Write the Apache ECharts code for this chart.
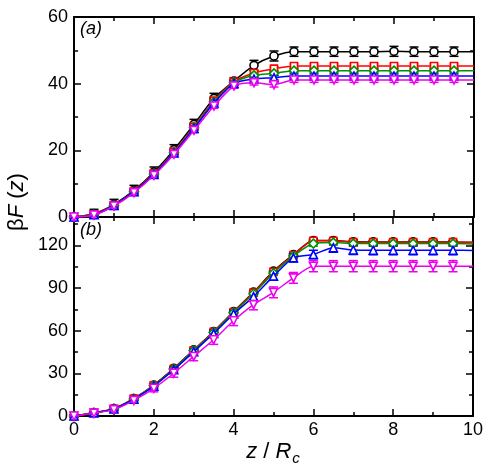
<!DOCTYPE html>
<html>
<head>
<meta charset="utf-8">
<script src="https://cdn.jsdelivr.net/npm/echarts@6/dist/echarts.min.js"></script>
<style>
  html, body { margin: 0; padding: 0; background: #fff; }
  #chart { width: 486px; height: 472px; }
</style>
</head>
<body>
<div id="chart"></div>
<script>
// z / Rc sample points (last one has no marker)
var zVals = [0, 0.5, 1, 1.5, 2, 2.5, 3, 3.5, 4, 4.5, 5, 5.5, 6, 6.5, 7, 7.5, 8, 8.5, 9, 9.5, 10];

// panel (a)
var aBlack   = [0, 1.0, 3.8, 8.0, 13.5, 20.2, 27.8, 35.6, 40.8, 45.5, 48.3, 49.6, 49.6, 49.6, 49.6, 49.6, 49.7, 49.6, 49.6, 49.6, 49.6];
var aRed     = [0, 0.8, 3.6, 7.8, 13.1, 19.6, 27.1, 34.9, 40.6, 43.2, 44.5, 45.3, 45.3, 45.3, 45.3, 45.3, 45.3, 45.3, 45.3, 45.3, 45.3];
var aGreen   = [0, 0.7, 3.5, 7.6, 12.9, 19.3, 26.8, 34.5, 40.3, 42.5, 43.1, 43.9, 43.9, 43.9, 43.9, 43.9, 43.9, 43.9, 43.9, 43.9, 43.9];
var aBlue    = [0, 0.7, 3.5, 7.6, 12.8, 19.2, 26.6, 34.2, 40.1, 41.4, 41.8, 42.3, 42.3, 42.3, 42.3, 42.3, 42.3, 42.3, 42.3, 42.3, 42.3];
var aMagenta = [0, 0.6, 3.3, 7.3, 12.5, 18.8, 26.0, 33.3, 39.3, 40.3, 39.7, 41.1, 41.1, 41.1, 41.1, 41.1, 41.1, 41.1, 41.1, 41.1, 41.1];

var aBlackErr   = [0.3, 1.3, 1.5, 1.5, 1.5, 1.5, 1.5, 1.5, 1.0, 1.5, 1.5, 1.4, 1.4, 1.4, 1.4, 1.4, 1.5, 1.4, 1.4, 1.4];
var aRedErr     = [0.2, 0.4, 0.5, 0.5, 0.5, 0.5, 0.6, 0.6, 0.6, 0.6, 0.6, 0.6, 0.6, 0.6, 0.6, 0.6, 0.6, 0.6, 0.6, 0.6];
var aGreenErr   = [0.2, 0.4, 0.5, 0.5, 0.5, 0.5, 0.6, 0.6, 0.6, 0.6, 0.6, 0.6, 0.6, 0.6, 0.6, 0.6, 0.6, 0.6, 0.6, 0.6];
var aBlueErr    = [0.2, 0.4, 0.5, 0.5, 0.5, 0.5, 0.6, 0.6, 0.6, 0.6, 0.6, 0.6, 0.6, 0.6, 0.6, 0.6, 0.6, 0.6, 0.6, 0.6];
var aMagentaErr = [0.2, 0.5, 0.6, 0.6, 0.7, 0.7, 0.7, 0.7, 0.7, 0.7, 0.7, 0.7, 0.7, 0.7, 0.7, 0.7, 0.7, 0.7, 0.7, 0.7];

// panel (b)
var bBlack   = [0, 2.3, 5.2, 12.3, 21.8, 33.5, 46.5, 59.5, 73.5, 87.2, 101.9, 113.5, 123.5, 123.5, 122.6, 122.5, 122.5, 122.5, 122.5, 122.3, 122.0];
var bRed     = [0, 2.3, 5.1, 12.2, 21.6, 33.2, 46.2, 59.2, 73.2, 86.8, 101.5, 113.2, 123.3, 123.3, 122.3, 122.3, 122.3, 122.3, 122.3, 122.3, 122.3];
var bGreen   = [0, 2.2, 5.0, 12.0, 21.4, 33.0, 46.0, 58.8, 72.7, 86.0, 100.5, 112.5, 121.3, 122.0, 121.3, 121.3, 121.3, 121.3, 121.3, 121.3, 121.0];
var bBlue    = [0, 2.2, 4.9, 11.8, 21.0, 32.5, 45.2, 58.0, 71.8, 84.0, 98.4, 111.3, 113.6, 118.4, 116.8, 116.6, 116.6, 116.6, 116.6, 116.6, 116.5];
var bMagenta = [0, 2.0, 4.5, 11.0, 19.5, 30.1, 41.9, 53.6, 67.0, 78.3, 87.0, 97.2, 105.4, 105.4, 105.4, 105.4, 105.4, 105.4, 105.4, 105.4, 105.4];

var bBlackErr   = [0.3, 0.8, 1.0, 1.0, 1.0, 1.0, 1.0, 1.0, 1.2, 1.2, 1.2, 1.2, 1.2, 1.2, 1.2, 1.2, 1.2, 1.2, 1.2, 1.2];
var bRedErr     = [0.3, 0.8, 1.0, 1.0, 1.0, 1.0, 1.0, 1.0, 1.2, 1.2, 1.2, 1.2, 1.2, 1.2, 1.2, 1.2, 1.2, 1.2, 1.2, 1.2];
var bGreenErr   = [0.3, 0.8, 1.0, 1.2, 1.2, 1.3, 1.4, 1.5, 1.5, 1.6, 1.6, 1.8, 1.8, 1.8, 1.8, 1.8, 1.8, 1.8, 1.8, 1.8];
var bBlueErr    = [0.3, 0.8, 1.0, 1.3, 1.5, 1.8, 2.0, 2.2, 2.5, 2.7, 2.8, 3.0, 3.0, 3.2, 3.2, 3.2, 3.2, 3.2, 3.2, 3.2];
var bMagentaErr = [0.3, 1.0, 1.5, 2.0, 2.5, 2.8, 3.0, 3.2, 3.4, 3.6, 3.8, 3.8, 3.9, 3.9, 3.9, 3.9, 3.9, 3.9, 3.9, 3.9];

var colors  = ['#000000', '#ff0000', '#009000', '#0000ff', '#ee00ee'];
var symbols = ['circle', 'rect', 'diamond', 'triangle', 'triangle'];
var symSize = [8, 7, 9, 8, 8];
var symRot  = [0, 0, 0, 0, 180];

var topSets = [aBlack, aRed, aGreen, aBlue, aMagenta];
var topErrs = [aBlackErr, aRedErr, aGreenErr, aBlueErr, aMagentaErr];
var botSets = [bBlack, bRed, bGreen, bBlue, bMagenta];
var botErrs = [bBlackErr, bRedErr, bGreenErr, bBlueErr, bMagentaErr];

var FONT = 'Liberation Sans, Arial, sans-serif';

function lineSeries(vals, k, xi, yi) {
    var data = vals.map(function (v, i) {
        var d = { value: [zVals[i], v] };
        if (zVals[i] === 10) d.symbolSize = 0;
        return d;
    });
    return {
        type: 'line',
        xAxisIndex: xi,
        yAxisIndex: yi,
        data: data,
        smooth: 0.25,
        symbol: symbols[k],
        symbolSize: symSize[k],
        symbolRotate: symRot[k],
        showAllSymbol: true,
        lineStyle: { color: colors[k], width: 1.5 },
        itemStyle: { color: '#fff', borderColor: colors[k], borderWidth: 1.6 },
        z: 3 + k,
        silent: true,
        animation: false
    };
}

function errSeries(vals, errs, k, xi, yi) {
    var data = errs.map(function (e, i) {
        return [zVals[i], vals[i] - e, vals[i] + e];
    });
    return {
        type: 'custom',
        xAxisIndex: xi,
        yAxisIndex: yi,
        data: data,
        z: 2 + k,
        silent: true,
        animation: false,
        renderItem: function (params, api) {
            var x = api.value(0);
            var p1 = api.coord([x, api.value(2)]);
            var p2 = api.coord([x, api.value(1)]);
            var w = 4.5;
            var st = { stroke: colors[k], lineWidth: 1.5 };
            return {
                type: 'group',
                children: [
                    { type: 'line', shape: { x1: p1[0], y1: p1[1], x2: p2[0], y2: p2[1] }, style: st },
                    { type: 'line', shape: { x1: p1[0] - w, y1: p1[1], x2: p1[0] + w, y2: p1[1] }, style: st },
                    { type: 'line', shape: { x1: p2[0] - w, y1: p2[1], x2: p2[0] + w, y2: p2[1] }, style: st }
                ]
            };
        }
    };
}

function frameAxis(extra) {
    var base = {
        type: 'value',
        axisLine: { show: true, onZero: false, lineStyle: { color: '#000', width: 2 } },
        axisTick: { show: true, inside: true, length: 7, lineStyle: { color: '#000', width: 1.5 } },
        minorTick: { show: true, splitNumber: 2, length: 4, lineStyle: { color: '#000', width: 1.5 } },
        splitLine: { show: false },
        axisLabel: { show: false }
    };
    return Object.assign(base, extra);
}

var labelStyle = { show: true, color: '#000', fontSize: 18, fontFamily: FONT, margin: 6 };

var series = [];
for (var k = 0; k < 5; k++) {
    series.push(errSeries(topSets[k], topErrs[k], k, 0, 0));
    series.push(lineSeries(topSets[k], k, 0, 0));
    series.push(errSeries(botSets[k], botErrs[k], k, 2, 2));
    series.push(lineSeries(botSets[k], k, 2, 2));
}

var option = {
    backgroundColor: '#fff',
    animation: false,
    grid: [
        { left: 74, top: 17, width: 400, height: 200 },
        { left: 74, top: 217, width: 400, height: 199 }
    ],
    xAxis: [
        frameAxis({ gridIndex: 0, position: 'bottom', min: 0, max: 10, interval: 2 }),
        frameAxis({ gridIndex: 0, position: 'top', min: 0, max: 10, interval: 2 }),
        frameAxis({ gridIndex: 1, position: 'bottom', min: 0, max: 10, interval: 2,
            axisLabel: Object.assign({}, labelStyle, { margin: 5 }) }),
        frameAxis({ gridIndex: 1, position: 'top', min: 0, max: 10, interval: 2 })
    ],
    yAxis: [
        frameAxis({ gridIndex: 0, position: 'left', min: 0, max: 60, interval: 20,
            axisLabel: labelStyle }),
        frameAxis({ gridIndex: 0, position: 'right', min: 0, max: 60, interval: 20 }),
        frameAxis({ gridIndex: 1, position: 'left', min: 0, max: 140, interval: 30,
            axisLabel: Object.assign({}, labelStyle, {
                formatter: function (v) { return v % 30 === 0 ? String(v) : ''; }
            }) }),
        frameAxis({ gridIndex: 1, position: 'right', min: 0, max: 140, interval: 30 })
    ],
    graphic: [
        {
            type: 'text', x: 80, y: 20, z: 20,
            style: { text: '(a)', font: 'italic 18px ' + FONT, fill: '#000' }
        },
        {
            type: 'text', x: 80, y: 221, z: 20,
            style: { text: '(b)', font: 'italic 18px ' + FONT, fill: '#000' }
        },
        {
            type: 'text', x: 17, y: 202, rotation: Math.PI / 2, z: 20,
            style: {
                text: '{n|β}{i|F}{n| (}{i|z}{n|)}',
                align: 'center', verticalAlign: 'middle',
                rich: {
                    n: { fontSize: 22, fontFamily: FONT, fill: '#000' },
                    i: { fontSize: 22, fontFamily: FONT, fontStyle: 'italic', fill: '#000' }
                }
            }
        },
        {
            type: 'text', x: 273, y: 452, z: 20,
            style: {
                text: '{i|z}{n| / }{i|R}{s|c}',
                align: 'center', verticalAlign: 'middle',
                rich: {
                    n: { fontSize: 22, fontFamily: FONT, fill: '#000' },
                    i: { fontSize: 22, fontFamily: FONT, fontStyle: 'italic', fill: '#000' },
                    s: { fontSize: 15, fontFamily: FONT, fontStyle: 'italic', fill: '#000', padding: [14, 0, 0, 1] }
                }
            }
        }
    ],
    series: series
};

var chart = echarts.init(document.getElementById('chart'), null, { renderer: 'canvas' });
chart.setOption(option);
</script>
</body>
</html>
